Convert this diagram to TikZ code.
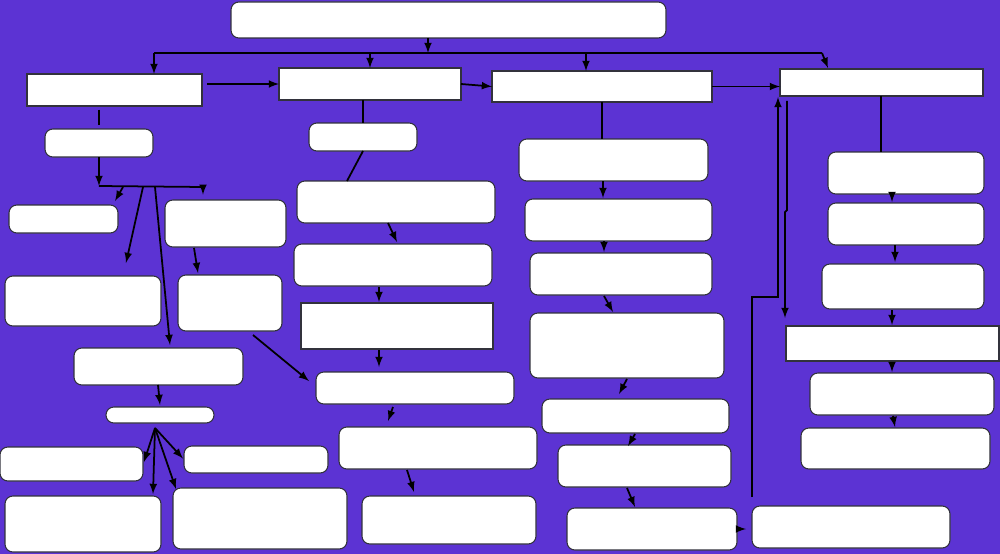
\documentclass[tikz,border=0pt]{standalone}
\usepackage{tikz}
\usetikzlibrary{arrows,calc}
\definecolor{bgpurple}{RGB}{92,51,211}
\definecolor{boxline}{RGB}{50,50,60}

\begin{document}
\begin{tikzpicture}[
x=0.02cm,
y=-0.02cm,
sbox/.style={
  draw=boxline,
  fill=white,
  line width=0.6pt,
  inner sep=0pt,
  outer sep=0pt
  },
rbox/.style={
  sbox,
  rounded corners=4.5pt
  },
link/.style={
  line width=1pt,
  black
  },
>=latex
]
\fill[bgpurple] (0,0) rectangle (1000,554);
\useasboundingbox (0,0) rectangle (1000,554);

% boxes: name/style/left/top/right/bottom
\foreach \n/\s/\xa/\ya/\xb/\yb in {
  T/rbox/231/2/666/38,
  A/sbox/27/74/202/106, B/sbox/279/68/461/100,
  C/sbox/492/71/712/102, D/sbox/780/69/983/96,
  A1/rbox/45/129/153/157, A2/rbox/9/205/118/233,
  A3/rbox/165/200/286/247, A4/rbox/5/276/161/326,
  A5/rbox/178/275/282/331, A6/rbox/74/348/243/385,
  A7/rbox/106/407/214/423, A8/rbox/0/447/143/481,
  A9/rbox/184/446/328/473, A10/rbox/5/496/161/552,
  A11/rbox/173/488/347/549,
  B1/rbox/309/123/417/151, B2/rbox/297/181/495/223,
  B3/rbox/294/244/492/286, B4/sbox/301/303/493/349,
  B5/rbox/316/372/514/404, B6/rbox/339/427/537/469,
  B7/rbox/362/496/536/544,
  C1/rbox/519/139/708/181, C2/rbox/525/199/712/241,
  C3/rbox/530/253/712/295, C4/rbox/530/313/724/378,
  C5/rbox/542/399/729/433, C6/rbox/558/445/731/487,
  C7/rbox/567/508/737/550, C8/rbox/752/506/950/548,
  D1/rbox/828/152/984/194, D2/rbox/828/203/984/245,
  D3/rbox/822/264/984/309, D4/sbox/786/326/999/361,
  D5/rbox/810/373/994/415, D6/rbox/801/428/990/469}
  \node[\s, minimum width={(\xb-\xa)*0.02cm}, minimum height={(\yb-\ya)*0.02cm}]
    (\n) at ({(\xa+\xb)/2},{(\ya+\yb)/2}) {};

% top bus
\coordinate (busL) at (154,53);
\coordinate (busR) at (822,53);
\coordinate (bT) at (428,53);
\coordinate (bB) at (370,53);
\coordinate (bC) at (586,53);
\draw[link,->] (bT |- T.south) -- (bT);
\draw[link] (busL) -- (busR);
\draw[link,->] (busL) -- (busL |- A.north);
\draw[link,->] (bB) -- (bB |- B.north);
\draw[link,->] (bC) -- (bC |- C.north);
\draw[link,->] (busR) -- ($(D.north west)+(48,-1)$);

\draw[link,->] ($(A.east)+(5,-6)$) -- (B.west);
\draw[link,->] (B.east) -- (C.west);
\draw[link,->] (C.east) -- (C.east -| D.west);

% left column
\coordinate (fA) at (99,186);
\coordinate (fAr) at (203,187);
\coordinate (fA2) at (123,187);
\coordinate (fA4) at (143,187);
\coordinate (fA6) at (155,187);
\draw[link,shorten <=2pt,shorten >=2pt] (A1.north |- A.south) -- (A1.north);
\draw[link,->] (A1.south) -- (fA);
\draw[link] (fA) -- (fAr);
\draw[link,->,shorten >=3pt] (fAr) -- (fAr |- A3.north);
\draw[link,->] (fA2) -- ($(A2.north east)+(-3,-4)$);
\draw[link,->] (fA4) -- ($(A4.north east)+(-35,-13)$);
\draw[link,->] (fA6) -- ($(A6.north west)+(96,-3)$);
\draw[link,->] ($(A3.south west)+(29,1)$) -- ($(A5.north west)+(20,-2)$);
\draw[link,->] ($(A5.south east)+(-29,4)$) -- ($(B5.west)+(-7,-7)$);
\draw[link,->] ($(A6.south west)+(84,0)$) -- ($(A7.north west)+(54,-2)$);

\coordinate (fB) at (155,428);
\draw[link,->] (fB) -- ($(A8.east)+(1,-2)$);
\draw[link,->] (fB) -- ($(A10.north east)+(-8,-2)$);
\draw[link,->] (fB) -- ($(A11.north west)+(3,1)$);
\draw[link,->] (fB) -- ($(A9.west)+(-1,-1)$);

% second column
\draw[link] (B1.north |- B.south) -- (B1.north);
\draw[link] (B1.south) -- ($(B2.north west)+(50,0)$);
\draw[link,->] ($(B2.south west)+(91,0)$) -- ($(B3.north west)+(103,-2)$);
\draw[link,->] ($(B3.south west)+(85,1)$) -- ($(B4.north west)+(78,-1)$);
\draw[link,->] ($(B4.south west)+(78,1)$) -- ($(B5.north west)+(63,-5)$);
\draw[link,->] ($(B5.south west)+(77,3)$) -- ($(B6.north west)+(49,-6)$);
\draw[link,->] ($(B6.south west)+(68,1)$) -- ($(B7.north west)+(52,-4)$);

% third column
\draw[link] ($(C.south west)+(110,0)$) -- ($(C1.north west)+(83,0)$);
\draw[link,->] ($(C1.south west)+(84,0)$) -- ($(C2.north west)+(78,-1)$);
\draw[link,->] ($(C2.south west)+(79,0)$) -- ($(C3.north west)+(74,-1)$);
\draw[link,->] ($(C3.south west)+(74,1)$) -- ($(C4.north west)+(83,-1)$);
\draw[link,->] ($(C4.south west)+(97,1)$) -- ($(C5.north west)+(77,-5)$);
\draw[link,->] ($(C5.south west)+(93,1)$) -- ($(C6.north west)+(70,1)$);
\draw[link,->] ($(C6.south west)+(69,1)$) -- ($(C7.north west)+(68,-1)$);
\draw[link,->] (C7.east) -- ($(C8.west)+(-6,2)$);

% feedback lines
\coordinate (fbk) at (778,297);
\coordinate (dj1) at (787,210);
\coordinate (dj2) at (785,212);
\draw[link,->] ($(C8.north west)+(0,-9)$) |- (fbk) -- ($(D.south west)+(-2,1)$);
\draw[link,->] ($(D.south west)+(7,5)$) -- (dj1) -- (dj2) -- ($(D4.north west)+(-1,-8)$);

% fourth column
\draw[link] ($(D.south west)+(101,0)$) -- ($(D1.north west)+(53,0)$);
\draw[link,->] ($(D1.south west)+(64,0)$) -- ($(D2.north west)+(64,-1)$);
\draw[link,->] ($(D2.south west)+(67,0)$) -- ($(D3.north west)+(73,-2)$);
\draw[link,->] ($(D3.south west)+(70,1)$) -- ($(D4.north west)+(106,-1)$);
\draw[link,->] ($(D4.south west)+(106,1)$) -- ($(D5.north west)+(82,-1)$);
\draw[link,->] ($(D5.south west)+(83,1)$) -- ($(D6.north west)+(94,-1)$);

\end{tikzpicture}
\end{document}
